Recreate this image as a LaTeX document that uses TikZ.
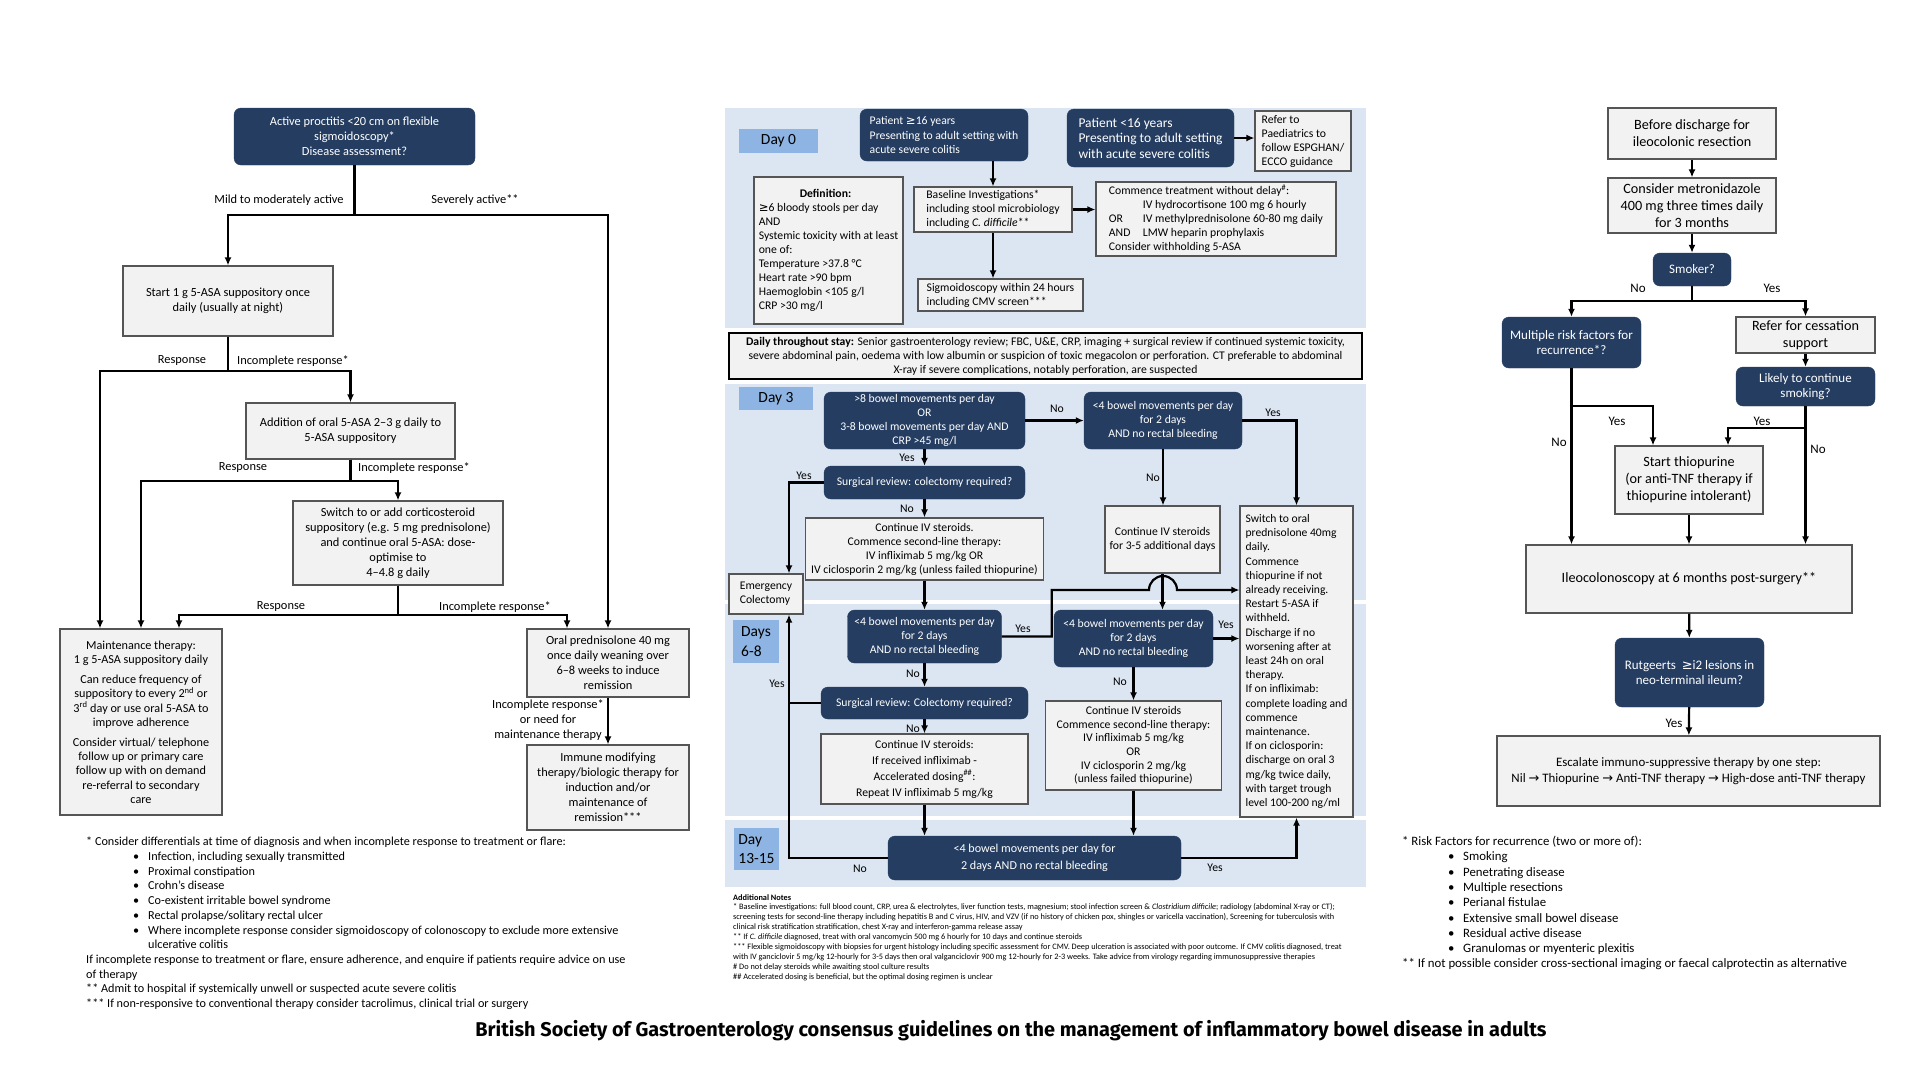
\documentclass[tikz,border=0pt]{standalone}
\usepackage{fontspec}
\setmainfont{Carlito}
\newfontfamily\symfont{DejaVu Sans}
\newfontfamily\titlefont{Fira Sans}
\usepackage{xcolor}
\usepackage{tikz}
\usetikzlibrary{shapes.geometric, arrows.meta}

\definecolor{navy}{RGB}{36,61,97}
\definecolor{boxfill}{RGB}{242,242,242}
\definecolor{boxline}{RGB}{85,85,85}
\definecolor{bandblue}{RGB}{220,230,242}
\definecolor{tagblue}{RGB}{141,180,226}

\begin{document}
\begin{tikzpicture}[x=1pt, y=-1pt]
	% Define styles for the blocks and arrows
	\tikzstyle{darkbox} = [rectangle, rounded corners=7pt, draw=navy, fill=navy, text=white, align=center, inner sep=2pt]
	\tikzstyle{lightbox} = [rectangle, draw=boxline, fill=boxfill, line width=1.2pt, align=center, inner sep=2pt]
	\tikzstyle{daytag} = [rectangle, fill=tagblue, align=left, inner sep=2pt, font=\fontsize{15.5}{19.5}\selectfont]
	\tikzstyle{arrow} = [line width=2.2pt, ->, >={Latex[length=8pt,width=7pt]}]
	\tikzstyle{line} = [line width=2.2pt]
	\tikzstyle{lbl} = [inner sep=0pt]
	\tikzstyle{lfont} = [font=\fontsize{12.4}{15}\selectfont]
	\tikzstyle{mfont} = [font=\fontsize{11.7}{14}\selectfont]
	\tikzstyle{mdark} = [font=\fontsize{11.7}{14.2}\selectfont]
	\tikzstyle{rfont} = [font=\fontsize{14.2}{17}\selectfont]
	\tikzstyle{rdark} = [font=\fontsize{13}{15.5}\selectfont]

	\useasboundingbox (0,0) rectangle (1920,1080);
	\fill[white] (0,0) rectangle (1920,1080);

	% Left panel: proctitis
	\node (proctitis) [darkbox, lfont, minimum width=241pt, minimum height=57pt] at (354.5,136.5) {Active proctitis <20 cm on flexible\\sigmoidoscopy*\\Disease assessment?};
	\node (start) [lightbox, lfont, minimum width=210pt, minimum height=70pt] at (228,301) {Start 1 g 5-ASA suppository once\\daily (usually at night)};
	\node (addition) [lightbox, lfont, minimum width=209pt, minimum height=56pt] at (350.5,431) {Addition of oral 5-ASA 2–3 g daily to\\5-ASA suppository};
	\node (switch) [lightbox, lfont, minimum width=210pt, minimum height=84pt] at (398,543) {Switch to or add corticosteroid\\suppository (e.g. 5 mg prednisolone)\\and continue oral 5-ASA: dose-\\optimise to\\4–4.8 g daily};
	\node (maint) [lightbox, font=\fontsize{12.2}{14.2}\selectfont, minimum width=162pt, minimum height=186pt] at (141,722) {Maintenance therapy:\\1 g 5-ASA suppository daily\\[6pt]Can reduce frequency of\\suppository to every 2\textsuperscript{nd} or\\3\textsuperscript{rd} day or use oral 5-ASA to\\improve adherence\\[6pt]Consider virtual/ telephone\\follow up or primary care\\follow up with on demand\\re-referral to secondary\\care};
	\node (pred) [lightbox, lfont, minimum width=162pt, minimum height=68pt] at (608,663) {Oral prednisolone 40 mg\\once daily weaning over\\6–8 weeks to induce\\remission};
	\node (immune) [lightbox, lfont, minimum width=162pt, minimum height=85pt] at (608,787.5) {Immune modifying\\therapy/biologic therapy for\\induction and/or\\maintenance of\\remission***};

	\node (mild) [lbl, lfont] at (279,200) {Mild to moderately active};
	\node (severe) [lbl, lfont] at (475,200) {Severely active**};
	\node (resp1) [lbl, lfont] at (182,361) {Response};
	\node (inc1) [lbl, lfont] at (293,361) {Incomplete response*};
	\node (resp2) [lbl, lfont] at (243,468) {Response};
	\node (inc2) [lbl, lfont] at (414,468) {Incomplete response*};
	\node (resp3) [lbl, lfont] at (281,607) {Response};
	\node (inc3) [lbl, lfont] at (495,607) {Incomplete response*};
	\node (inc4) [lbl, lfont, align=center] at (548,720) {Incomplete response*\\or need for\\maintenance therapy};

	\draw [arrow] (proctitis.south) -- ++(0,50) -| (start.north);
	\draw [arrow] (proctitis.south) -- ++(0,50) -| (pred.north);
	\draw [arrow] (start.south) -- ++(0,34) -| ([xshift=-41pt]maint.north);
	\draw [arrow] (start.south) -- ++(0,34) -| (addition.north);
	\draw [arrow] (addition.south) -- ++(0,21) -| (maint.north);
	\draw [arrow] (addition.south) -- ++(0,21) -| (switch.north);
	\draw [arrow] (switch.south) -- ++(0,29) -| ([xshift=38pt]maint.north);
	\draw [arrow] (switch.south) -- ++(0,29) -| ([xshift=-41pt]pred.north);
	\draw [arrow] (pred) -- (immune);

	\node (lnotes) [lbl, align=left, anchor=north west, font=\fontsize{12.2}{14.7}\selectfont] at (86,837) {* Consider differentials at time of diagnosis and when incomplete response to treatment or flare:\\
		\hspace*{47pt}\makebox[15pt][l]{\textbullet}Infection, including sexually transmitted\\
		\hspace*{47pt}\makebox[15pt][l]{\textbullet}Proximal constipation\\
		\hspace*{47pt}\makebox[15pt][l]{\textbullet}Crohn’s disease\\
		\hspace*{47pt}\makebox[15pt][l]{\textbullet}Co-existent irritable bowel syndrome\\
		\hspace*{47pt}\makebox[15pt][l]{\textbullet}Rectal prolapse/solitary rectal ulcer\\
		\hspace*{47pt}\makebox[15pt][l]{\textbullet}Where incomplete response consider sigmoidoscopy of colonoscopy to exclude more extensive\\
		\hspace*{62pt}ulcerative colitis\\
		If incomplete response to treatment or flare, ensure adherence, and enquire if patients require advice on use\\
		of therapy\\
		** Admit to hospital if systemically unwell or suspected acute severe colitis\\
		*** If non-responsive to conventional therapy consider tacrolimus, clinical trial or surgery};

	% Middle panel: acute severe colitis
	\fill[bandblue] (725,108) rectangle (1366,328);
	\fill[bandblue] (725,384) rectangle (1366,600);
	\fill[bandblue] (725,604) rectangle (1366,816);
	\fill[bandblue] (725,820) rectangle (1366,887);

	\node (day0) [daytag, align=center, minimum width=79pt, minimum height=24pt] at (778.5,141) {Day 0};
	\node (day3) [daytag, align=center, minimum width=74pt, minimum height=23pt] at (776,398.5) {Day 3};
	\node (day6) [daytag, minimum width=46pt, minimum height=43pt] at (756,641.5) {Days\\6-8};
	\node (day13) [daytag, minimum width=45pt, minimum height=42pt] at (756.5,849) {Day\\13-15};

	\node (p16) [darkbox, mdark, align=left, minimum width=168pt, minimum height=52pt] at (944,135) {Patient {\symfont ≥}16 years\\Presenting to adult setting with\\acute severe colitis};
	\node (p16u) [darkbox, font=\fontsize{13.5}{15.5}\selectfont, align=left, minimum width=167pt, minimum height=58pt] at (1150.5,138) {Patient <16 years\\Presenting to adult setting\\with acute severe colitis};
	\node (paed) [lightbox, mfont, align=left, minimum width=96pt, minimum height=60pt] at (1303,141) {Refer to\\Paediatrics to\\follow ESPGHAN/\\ECCO guidance};
	\node (defn) [lightbox, mfont, align=left, minimum width=149pt, minimum height=147pt] at (828.5,250.5) {\hspace*{41pt}\textbf{Definition:}\\{\symfont ≥}6 bloody stools per day\\AND\\Systemic toxicity with at least\\one of:\\Temperature >37.8 °C\\Heart rate >90 bpm\\Haemoglobin <105 g/l\\CRP >30 mg/l};
	\node (base) [lightbox, mfont, align=left, minimum width=158pt, minimum height=45pt] at (993,209.5) {Baseline Investigations*\\including stool microbiology\\including \textit{C. difficile}**};
	\node (treat) [lightbox, mfont, align=left, minimum width=240pt, minimum height=74pt] at (1216,219) {Commence treatment without delay\textsuperscript{\#}:\\\hspace*{34pt}IV hydrocortisone 100 mg 6 hourly\\\makebox[34pt][l]{OR}IV methylprednisolone 60-80 mg daily\\\makebox[34pt][l]{AND}LMW heparin prophylaxis\\Consider withholding 5-ASA};
	\node (sig) [lightbox, mfont, align=left, minimum width=165pt, minimum height=32pt] at (1000.5,295) {Sigmoidoscopy within 24 hours\\including CMV screen***};
	\node (daily) [rectangle, draw=black, line width=1.8pt, fill=boxfill, align=center, inner sep=2pt, mfont, minimum width=633pt, minimum height=46pt] at (1045.5,356) {\textbf{Daily throughout stay:} Senior gastroenterology review; FBC, U\&E, CRP, imaging + surgical review if continued systemic toxicity,\\severe abdominal pain, oedema with low albumin or suspicion of toxic megacolon or perforation. CT preferable to abdominal\\X-ray if severe complications, notably perforation, are suspected};

	\node (a8) [darkbox, mdark, minimum width=201pt, minimum height=57pt] at (924.5,420.5) {>8 bowel movements per day\\OR\\3-8 bowel movements per day AND\\CRP >45 mg/l};
	\node (b4) [darkbox, mdark, minimum width=158pt, minimum height=57pt] at (1163,420.5) {<4 bowel movements per day\\for 2 days\\AND no rectal bleeding};
	\node (surg1) [darkbox, mdark, minimum width=201pt, minimum height=33pt] at (924.5,482.5) {Surgical review: colectomy required?};
	\node (emerg) [lightbox, mfont, align=left, minimum width=74pt, minimum height=40pt] at (766,594) {Emergency\\Colectomy};
	\node (cont1) [lightbox, mfont, minimum width=238pt, minimum height=62pt] at (924.5,549) {Continue IV steroids.\\Commence second-line therapy:\\IV infliximab 5 mg/kg OR\\IV ciclosporin 2 mg/kg (unless failed thiopurine)};
	\node (cont35) [lightbox, mfont, minimum width=115pt, minimum height=67pt] at (1162.5,539.5) {Continue IV steroids\\for 3-5 additional days};
	\node (sw) [lightbox, font=\fontsize{11.6}{14.2}\selectfont, align=left, minimum width=113pt, minimum height=311pt] at (1296.5,661.5) {Switch to oral\\prednisolone 40mg\\daily.\\Commence\\thiopurine if not\\already receiving.\\Restart 5-ASA if\\withheld.\\Discharge if no\\worsening after at\\least 24h on oral\\therapy.\\If on infliximab:\\complete loading and\\commence\\maintenance.\\If on ciclosporin:\\discharge on oral 3\\mg/kg twice daily,\\with target trough\\level 100-200 ng/ml};
	\node (c4) [darkbox, mdark, minimum width=154pt, minimum height=53pt] at (924.5,636.5) {<4 bowel movements per day\\for 2 days\\AND no rectal bleeding};
	\node (d4) [darkbox, mdark, minimum width=159pt, minimum height=57pt] at (1133.5,638.5) {<4 bowel movements per day\\for 2 days\\AND no rectal bleeding};
	\node (surg2) [darkbox, mdark, minimum width=207pt, minimum height=32pt] at (924.5,703) {Surgical review: Colectomy required?};
	\node (cont2) [lightbox, font=\fontsize{11.7}{16}\selectfont, minimum width=207pt, minimum height=70pt] at (924.5,769) {Continue IV steroids:\\If received infliximab -\\Accelerated dosing\textsuperscript{\#\#}:\\Repeat IV infliximab 5 mg/kg};
	\node (cont3) [lightbox, font=\fontsize{11.7}{13.7}\selectfont, minimum width=176pt, minimum height=89pt] at (1133.5,745.5) {Continue IV steroids\\Commence second-line therapy:\\IV infliximab 5 mg/kg\\OR\\IV ciclosporin 2 mg/kg\\(unless failed thiopurine)};
	\node (e4) [darkbox, font=\fontsize{12.1}{16.5}\selectfont, minimum width=293pt, minimum height=44pt] at (1034.5,858) {<4 bowel movements per day for\\2 days AND no rectal bleeding};

	\coordinate (hopl) at (1149,590);
	\coordinate (ecol) at ([xshift=23pt]emerg.south);

	\node (no1) [lbl, mfont] at (1057,409) {No};
	\node (yes1) [lbl, mfont] at (1273,413) {Yes};
	\node (yes2) [lbl, mfont] at (907,458) {Yes};
	\node (yes3) [lbl, mfont] at (804,476) {Yes};
	\node (no2) [lbl, mfont] at (907,509) {No};
	\node (no3) [lbl, mfont] at (1153,478) {No};
	\node (yes4) [lbl, mfont] at (1023,629) {Yes};
	\node (yes5) [lbl, mfont] at (1226,625) {Yes};
	\node (no4) [lbl, mfont] at (913,674) {No};
	\node (yes6) [lbl, mfont] at (777,684) {Yes};
	\node (no5) [lbl, mfont] at (913,729) {No};
	\node (no6) [lbl, mfont] at (1120,682) {No};
	\node (no7) [lbl, mfont] at (860,869) {No};
	\node (yes7) [lbl, mfont] at (1215,868) {Yes};

	\draw [arrow] (p16u.east) -- (p16u.east -| paed.west);
	\draw [arrow] (p16.south -| base.north) -- (base.north);
	\draw [arrow] (base.east) -- (base.east -| treat.west);
	\draw [arrow] (base.south) -- (base.south |- sig.north);
	\draw [arrow] (a8) -- (b4);
	\draw [arrow] (b4.east) -| (sw.north);
	\draw [arrow] (a8) -- (surg1);
	\draw [arrow] (surg1.west) -| ([xshift=23pt]emerg.north);
	\draw [arrow] (surg1) -- (cont1);
	\draw [arrow] (b4.south) -- (b4.south |- cont35.north);
	\draw [arrow] (cont1) -- (c4);
	\draw [arrow] (c4.east) -- ++(50,0) |- (hopl) arc[start angle=180, end angle=0, radius=14pt] -- (sw.west |- hopl);
	\draw [arrow] (c4) -- (surg2);
	\draw [line] (surg2.west) -- (surg2.west -| ecol);
	\draw [arrow] (surg2) -- (cont2);
	\draw [arrow] (cont35.south) -- (cont35.south |- d4.north);
	\draw [arrow] (d4.east) -- (d4.east -| sw.west);
	\draw [arrow] (d4) -- (cont3);
	\draw [arrow] (cont2.south) -- (cont2.south |- e4.north);
	\draw [arrow] (cont3.south) -- (cont3.south |- e4.north);
	\draw [arrow] (e4.west) -| (ecol);
	\draw [arrow] (e4.east) -| (sw.south);

	\node (mnotes) [lbl, align=left, anchor=north west, font=\fontsize{8.3}{9.9}\selectfont] at (733,894) {\textbf{Additional Notes}\\
		* Baseline investigations: full blood count, CRP, urea \& electrolytes, liver function tests, magnesium; stool infection screen \& \textit{Clostridium difficile}; radiology (abdominal X-ray or CT);\\
		screening tests for second-line therapy including hepatitis B and C virus, HIV, and VZV (if no history of chicken pox, shingles or varicella vaccination), Screening for tuberculosis with\\
		clinical risk stratification stratification, chest X-ray and interferon-gamma release assay\\
		** If \textit{C. difficile} diagnosed, treat with oral vancomycin 500 mg 6 hourly for 10 days and continue steroids\\
		*** Flexible sigmoidoscopy with biopsies for urgent histology including specific assessment for CMV. Deep ulceration is associated with poor outcome. If CMV colitis diagnosed, treat\\
		with IV ganciclovir 5 mg/kg 12-hourly for 3-5 days then oral valganciclovir 900 mg 12-hourly for 2-3 weeks. Take advice from virology regarding immunosuppressive therapies\\
		\# Do not delay steroids while awaiting stool culture results\\
		\#\# Accelerated dosing is beneficial, but the optimal dosing regimen is unclear};

	% Right panel: post-operative Crohn's
	\node (discharge) [lightbox, rfont, minimum width=168pt, minimum height=51pt] at (1692,133.5) {Before discharge for\\ileocolonic resection};
	\node (metro) [lightbox, rfont, minimum width=168pt, minimum height=55pt] at (1692,205.5) {Consider metronidazole\\400 mg three times daily\\for 3 months};
	\node (smoker) [darkbox, rdark, minimum width=78pt, minimum height=33pt] at (1692,269.5) {Smoker?};
	\node (multi) [darkbox, rdark, minimum width=139pt, minimum height=51pt] at (1571.5,342.5) {Multiple risk factors for\\recurrence*?};
	\node (refer) [lightbox, rfont, minimum width=139pt, minimum height=36pt] at (1805.5,335) {Refer for cessation\\support};
	\node (likely) [darkbox, rdark, minimum width=139pt, minimum height=39pt] at (1805.5,386.5) {Likely to continue\\smoking?};
	\node (thio) [lightbox, rfont, minimum width=148pt, minimum height=68pt] at (1689,480) {Start thiopurine\\(or anti-TNF therapy if\\thiopurine intolerant)};
	\node (ileo) [lightbox, rfont, minimum width=326pt, minimum height=68pt] at (1689,579) {Ileocolonoscopy at 6 months post-surgery**};
	\node (rut) [darkbox, rdark, minimum width=149pt, minimum height=69pt] at (1689.5,672.5) {Rutgeerts\ \ {\symfont ≥}i2 lesions in\\neo-terminal ileum?};
	\node (escalate) [lightbox, font=\fontsize{12.9}{15.5}\selectfont, minimum width=383pt, minimum height=70pt] at (1688.5,771) {Escalate immuno-suppressive therapy by one step:\\Nil {\symfont →} Thiopurine {\symfont →} Anti-TNF therapy {\symfont →} High-dose anti-TNF therapy};

	\node (rno1) [lbl, rdark] at (1638,288) {No};
	\node (ryes1) [lbl, rdark] at (1772,288) {Yes};
	\node (ryes2) [lbl, rdark] at (1617,421) {Yes};
	\node (ryes3) [lbl, rdark] at (1762,421) {Yes};
	\node (rno2) [lbl, rdark] at (1559,442) {No};
	\node (rno3) [lbl, rdark] at (1818,449) {No};
	\node (ryes4) [lbl, rdark] at (1674,723) {Yes};

	\draw [arrow] (discharge) -- (metro);
	\draw [arrow] (metro) -- (smoker);
	\draw [arrow] (smoker.south) -- ++(0,15) -| (multi.north);
	\draw [arrow] (smoker.south) -- ++(0,15) -| (refer.north);
	\draw [arrow] (refer) -- (likely);
	\draw [arrow] (multi.south) -- (multi.south |- ileo.north);
	\draw [arrow] (multi.south) -- ++(0,38) -| ([xshift=-36pt]thio.north);
	\draw [arrow] (likely.south) -- (likely.south |- ileo.north);
	\draw [arrow] (likely.south) -- ++(0,22) -| ([xshift=39pt]thio.north);
	\draw [arrow] (thio) -- (ileo);
	\draw [arrow] (ileo) -- (rut);
	\draw [arrow] (rut) -- (escalate);

	\node (rnotes) [lbl, align=left, anchor=north west, font=\fontsize{12.8}{15.3}\selectfont] at (1402,836) {* Risk Factors for recurrence (two or more of):\\
		\hspace*{46pt}\makebox[15pt][l]{\textbullet}Smoking\\
		\hspace*{46pt}\makebox[15pt][l]{\textbullet}Penetrating disease\\
		\hspace*{46pt}\makebox[15pt][l]{\textbullet}Multiple resections\\
		\hspace*{46pt}\makebox[15pt][l]{\textbullet}Perianal fistulae\\
		\hspace*{46pt}\makebox[15pt][l]{\textbullet}Extensive small bowel disease\\
		\hspace*{46pt}\makebox[15pt][l]{\textbullet}Residual active disease\\
		\hspace*{46pt}\makebox[15pt][l]{\textbullet}Granulomas or myenteric plexitis\\
		** If not possible consider cross-sectional imaging or faecal calprotectin as alternative};

	% Title
	\node (title) [lbl, font=\titlefont\bfseries\fontsize{19.9}{23}\selectfont] at (1011,1031) {British Society of Gastroenterology consensus guidelines on the management of inflammatory bowel disease in adults};
\end{tikzpicture}
\end{document}
